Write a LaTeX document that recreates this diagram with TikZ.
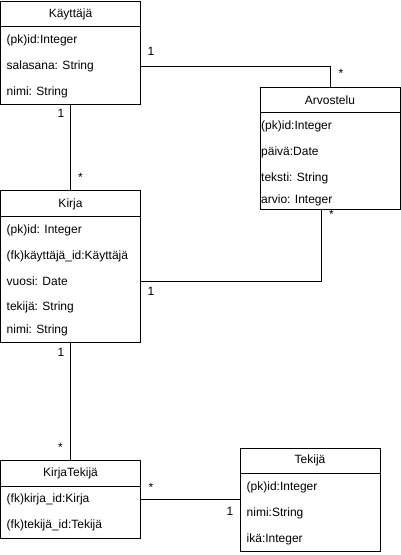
\documentclass[tikz,border=0pt]{standalone}
\usepackage{fontspec}
\setmainfont{Liberation Sans}
\begin{document}
\begin{tikzpicture}[x=1pt,y=-1pt,
    every node/.style={font=\fontsize{12}{14}\selectfont},
    classbox/.style={draw,line width=1pt,outer sep=0pt,inner sep=0pt,minimum width=140pt},
    attr/.style={anchor=west,inner sep=0pt},
    mult/.style={inner sep=0pt}]
    \useasboundingbox (0,0) rectangle (401,555);
    % Kayttaja
    \node[classbox,minimum height=103pt] (kayttaja) at (70.5,52.5) {};
    \draw[line width=1pt] ([yshift=-25.5pt]kayttaja.north west) -- ([yshift=-25.5pt]kayttaja.north east);
    \node (kayttajatitle) at (70.5,14) {Käyttäjä};
    \foreach \y/\t [count=\i] in {40/{(pk)id:Integer}, 66/{salasana: String}, 92/{nimi: String}} {
      \node[attr] (k\i) at (6.5,\y) {\t};
    }
    % Arvostelu
    \node[classbox,minimum height=122pt] (arvostelu) at (330,148) {};
    \draw[line width=1pt] ([yshift=-25.5pt]arvostelu.north west) -- ([yshift=-25.5pt]arvostelu.north east);
    \node (arvostelutitle) at (330,100) {Arvostelu};
    \foreach \y/\t [count=\i] in {126/{(pk)id:Integer}, 152/{päivä:Date}, 178/{teksti: String}, 200.5/{arvio: Integer}} {
      \node[attr] (a\i) at (261,\y) {\t};
    }
    % Kirja
    \node[classbox,minimum height=152pt] (kirja) at (70.5,266) {};
    \draw[line width=1pt] ([yshift=-26pt]kirja.north west) -- ([yshift=-26pt]kirja.north east);
    \node (kirjatitle) at (70.5,204) {Kirja};
    \foreach \y/\t [count=\i] in {230/{(pk)id: Integer}, 256/{(fk)käyttäjä\_id:Käyttäjä}, 281/{vuosi: Date}, 307/{tekijä: String}, 330/{nimi: String}} {
      \node[attr] (ki\i) at (6.5,\y) {\t};
    }
    % KirjaTekija
    \node[classbox,minimum height=78pt] (kirjatekija) at (70.5,499) {};
    \draw[line width=1pt] ([yshift=-26.5pt]kirjatekija.north west) -- ([yshift=-26.5pt]kirjatekija.north east);
    \node (kirjatekijatitle) at (70.5,473.5) {KirjaTekijä};
    \foreach \y/\t [count=\i] in {499.5/{(fk)kirja\_id:Kirja}, 525.5/{(fk)tekijä\_id:Tekijä}} {
      \node[attr] (kt\i) at (6.5,\y) {\t};
    }
    % Tekija
    \node[classbox,minimum height=103pt] (tekija) at (310,499.5) {};
    \draw[line width=1pt] ([yshift=-25pt]tekija.north west) -- ([yshift=-25pt]tekija.north east);
    \node (tekijatitle) at (310,460.5) {Tekijä};
    \foreach \y/\t [count=\i] in {487/{(pk)id:Integer}, 513.5/{nimi:String}, 539/{ikä:Integer}} {
      \node[attr] (t\i) at (246.5,\y) {\t};
    }
    % connectors
    \coordinate (arvjoin) at ([xshift=-9pt]arvostelu.south);
    \draw[line width=1pt] (kayttaja.east |- k2) -| (arvostelu.north);
    \draw[line width=1pt] (kayttaja.south) -- (kirja.north);
    \draw[line width=1pt] (kirja.east |- ki3) -| (arvjoin);
    \draw[line width=1pt] (kirja.south) -- (kirjatekija.north);
    \draw[line width=1pt] (kirjatekija.east |- kt1) -- (kt1 -| tekija.west);
    % multiplicities
    \foreach \x/\y/\t [count=\i] in {151/51.5/1, 341/73/*, 61/113/1, 80.5/177/*, 151/291/1,
        331.5/214/*, 61/352/1, 60.5/447/*, 151/487/*, 230/511.5/1} {
      \node[mult] (m\i) at (\x,\y) {\t};
    }
\end{tikzpicture}
\end{document}
